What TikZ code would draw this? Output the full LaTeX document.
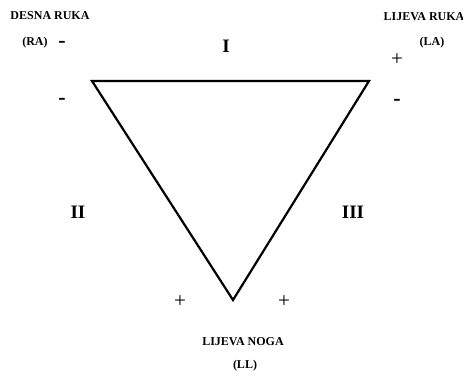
\documentclass[tikz,border=0pt]{standalone}
\usepackage{fontspec}
\setmainfont{Liberation Serif}
\tikzset{
  lead/.style={font=\bfseries\fontsize{12}{14}\selectfont, inner sep=0pt},
  plussign/.style={font=\fontsize{21}{21}\selectfont, inner sep=0pt},
  minussign/.style={font=\bfseries\fontsize{22}{22}\selectfont, inner sep=0pt},
  roman/.style={font=\bfseries\fontsize{19}{20}\selectfont, inner sep=0pt}
}
\begin{document}
\begin{tikzpicture}[x=1pt,y=-1pt]
        \useasboundingbox (0,0) rectangle (463,372);
        \coordinate (ra) at (92,81);
        \coordinate (la) at (369,81);
        \coordinate (ll) at (233,300);
        \draw[line width=2.2pt,line join=miter] (ra)--(la)--(ll)--cycle;
        % electrode labels
        \node[lead] (ratext) at (50,16) {DESNA RUKA};
        \node[lead] (raabbr) at (35,43) {(RA)};
        \node[lead] (latext) at (424,17) {LIJEVA RUKA};
        \node[lead] (laabbr) at (432,43) {(LA)};
        \node[lead] (lltext) at (243,342) {LIJEVA NOGA};
        \node[lead] (llabbr) at (245,366) {(LL)};
        % leads
        \node[roman] (one) at (226,46) {I};
        \node[roman] (two) at (78,212) {II};
        \node[roman] (three) at (353,212) {III};
        % polarity
        \node[minussign] (m1) at (62,44) {-};
        \node[minussign] (m2) at (62,101) {-};
        \node[plussign] (p1) at (397,60) {+};
        \node[minussign] (m3) at (397,102) {-};
        \node[plussign] (p2) at (180,302) {+};
        \node[plussign] (p3) at (284,302) {+};
        \end{tikzpicture}
\end{document}
